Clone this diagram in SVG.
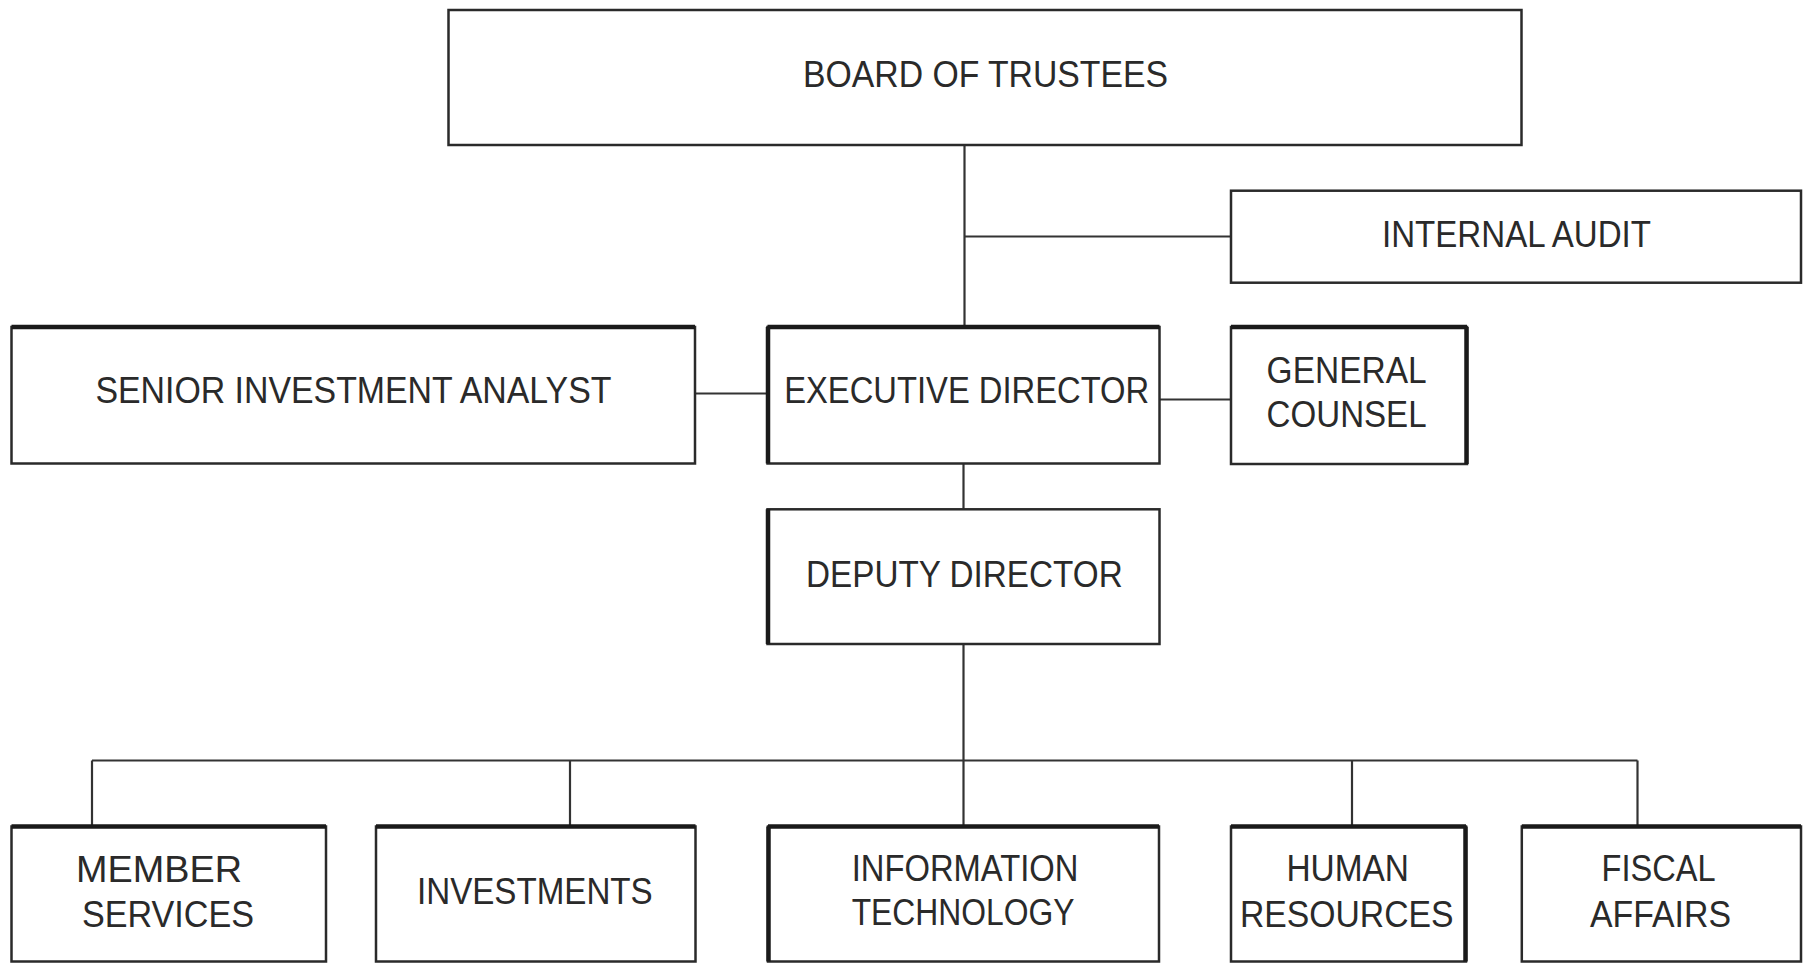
<svg xmlns="http://www.w3.org/2000/svg" width="1807" height="963" viewBox="0 0 1807 963">
<style>
.box{fill:#fff;stroke:#2a2a2a;stroke-width:2.5}
.heavy{stroke:#1a1a1a;stroke-width:4.5;fill:none}
.con{stroke:#333;stroke-width:2.2;fill:none}
text{font-family:"Liberation Sans",Arial,sans-serif;font-size:36px;fill:#2a2a2a}
</style>
<rect width="1807" height="963" fill="#fff"/>
<g id="connectors">
<line class="con" x1="964.5" y1="145" x2="964.5" y2="327"/>
<line class="con" x1="964.5" y1="236.5" x2="1231" y2="236.5"/>
<line class="con" x1="695" y1="393.5" x2="767" y2="393.5"/>
<line class="con" x1="1159" y1="399.5" x2="1231" y2="399.5"/>
<line class="con" x1="963.5" y1="463" x2="963.5" y2="509"/>
<line class="con" x1="963.5" y1="644" x2="963.5" y2="826"/>
<line class="con" x1="92" y1="760.5" x2="1637.5" y2="760.5"/>
<line class="con" x1="92" y1="760.5" x2="92" y2="826"/>
<line class="con" x1="570" y1="760.5" x2="570" y2="826"/>
<line class="con" x1="1352" y1="760.5" x2="1352" y2="826"/>
<line class="con" x1="1637.5" y1="760.5" x2="1637.5" y2="826"/>
</g>
<g id="board">
<rect class="box" x="448.5" y="10" width="1073" height="135"/>
<text x="803" y="87.3" textLength="365" lengthAdjust="spacingAndGlyphs">BOARD OF TRUSTEES</text>
</g>
<g id="internal-audit">
<rect class="box" x="1231" y="190.7" width="570" height="92"/>
<text x="1382" y="246.7" textLength="269" lengthAdjust="spacingAndGlyphs">INTERNAL AUDIT</text>
</g>
<g id="senior-investment-analyst">
<rect class="box" x="11.5" y="327" width="683.5" height="136.5"/>
<line class="heavy" x1="11.5" y1="327" x2="695" y2="327"/>
<text x="95.4" y="403.3" textLength="516" lengthAdjust="spacingAndGlyphs">SENIOR INVESTMENT ANALYST</text>
</g>
<g id="executive-director">
<rect class="box" x="767.5" y="327" width="392" height="136.5"/>
<line class="heavy" x1="767.5" y1="327" x2="1159.5" y2="327"/>
<line class="heavy" x1="768" y1="327" x2="768" y2="463.5"/>
<text x="784.2" y="403.3" textLength="365" lengthAdjust="spacingAndGlyphs">EXECUTIVE DIRECTOR</text>
</g>
<g id="general-counsel">
<rect class="box" x="1231" y="327" width="236" height="137"/>
<line class="heavy" x1="1231" y1="327" x2="1467" y2="327"/>
<line class="heavy" x1="1466.5" y1="327" x2="1466.5" y2="464"/>
<text x="1266.6" y="383.3" textLength="160" lengthAdjust="spacingAndGlyphs">GENERAL</text>
<text x="1266.6" y="427.3" textLength="160" lengthAdjust="spacingAndGlyphs">COUNSEL</text>
</g>
<g id="deputy-director">
<rect class="box" x="767.5" y="509.3" width="392" height="134.7"/>
<line class="heavy" x1="768" y1="509.3" x2="768" y2="644"/>
<text x="806" y="586.7" textLength="316.7" lengthAdjust="spacingAndGlyphs">DEPUTY DIRECTOR</text>
</g>
<g id="member-services">
<rect class="box" x="11.5" y="826.5" width="314.5" height="135"/>
<line class="heavy" x1="11.5" y1="826.5" x2="326" y2="826.5"/>
<text x="76" y="881.7" textLength="166" lengthAdjust="spacingAndGlyphs">MEMBER</text>
<text x="82" y="926.7" textLength="172" lengthAdjust="spacingAndGlyphs">SERVICES</text>
</g>
<g id="investments">
<rect class="box" x="376" y="826.5" width="319.5" height="135"/>
<line class="heavy" x1="376" y1="826.5" x2="695.5" y2="826.5"/>
<text x="417" y="904" textLength="235.7" lengthAdjust="spacingAndGlyphs">INVESTMENTS</text>
</g>
<g id="information-technology">
<rect class="box" x="768" y="826.5" width="391" height="135"/>
<line class="heavy" x1="768" y1="826.5" x2="1159" y2="826.5"/>
<line class="heavy" x1="768.5" y1="826.5" x2="768.5" y2="961.5"/>
<text x="851.7" y="881" textLength="226.7" lengthAdjust="spacingAndGlyphs">INFORMATION</text>
<text x="851.7" y="925" textLength="222.7" lengthAdjust="spacingAndGlyphs">TECHNOLOGY</text>
</g>
<g id="human-resources">
<rect class="box" x="1231" y="826.5" width="235" height="135"/>
<line class="heavy" x1="1231" y1="826.5" x2="1466" y2="826.5"/>
<line class="heavy" x1="1465.5" y1="826.5" x2="1465.5" y2="961.5"/>
<text x="1286.4" y="880.7" textLength="122.6" lengthAdjust="spacingAndGlyphs">HUMAN</text>
<text x="1240" y="926.7" textLength="213.5" lengthAdjust="spacingAndGlyphs">RESOURCES</text>
</g>
<g id="fiscal-affairs">
<rect class="box" x="1521.8" y="826.5" width="279.2" height="135"/>
<line class="heavy" x1="1521.8" y1="826.5" x2="1801" y2="826.5"/>
<text x="1601.6" y="880.7" textLength="114" lengthAdjust="spacingAndGlyphs">FISCAL</text>
<text x="1590" y="926.7" textLength="141" lengthAdjust="spacingAndGlyphs">AFFAIRS</text>
</g>
</svg>
